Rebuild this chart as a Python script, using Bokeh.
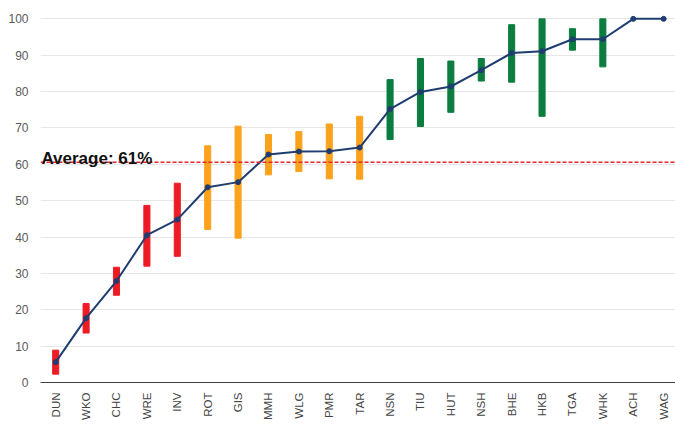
import math
from bokeh.plotting import figure
from bokeh.models import Range1d, FixedTicker, Label, Span, ColumnDataSource
from bokeh.embed import file_html
from bokeh.resources import INLINE

categories = ["DUN", "WKO", "CHC", "WRE", "INV", "ROT", "GIS", "MMH", "WLG", "PMR",
              "TAR", "NSN", "TIU", "HUT", "NSH", "BHE", "HKB", "TGA", "WHK", "ACH", "WAG"]
values = [5.6, 17.7, 27.9, 40.5, 44.8, 53.7, 55.1, 62.7, 63.5, 63.6,
          64.6, 75.2, 79.9, 81.4, 85.9, 90.6, 91.1, 94.4, 94.4, 100.0, 100.0]
lows = [2.3, 13.6, 24.0, 32.0, 34.7, 42.1, 39.7, 57.1, 58.0, 56.0,
        55.9, 66.8, 70.4, 74.3, 82.9, 82.6, 73.2, 91.4, 86.8, None, None]
highs = [8.9, 21.7, 31.7, 48.7, 54.8, 65.1, 70.5, 68.2, 69.0, 71.1,
         73.2, 83.3, 89.1, 88.4, 89.1, 98.4, 100.0, 97.3, 100.0, None, None]
groups = ["low"] * 5 + ["mid"] * 6 + ["high"] * 10
average = 60.6
y_ticks = [0, 10, 20, 30, 40, 50, 60, 70, 80, 90, 100]

group_colors = {"low": "#ed1c24", "mid": "#faa21b", "high": "#0b7d3e"}

n = len(categories)
xs = list(range(n))

p = figure(width=675, height=428, output_backend="svg", toolbar_location=None,
           x_range=Range1d(-0.5, 20.39), y_range=Range1d(0, 102.3),
           min_border_left=40, min_border_right=0, min_border_top=10, min_border_bottom=46)
p.outline_line_color = None
p.background_fill_color = "white"
p.border_fill_color = "white"

bx, bl, bh, bc = [], [], [], []
for i in xs:
    if lows[i] is not None:
        bx.append(i); bl.append(lows[i]); bh.append(highs[i]); bc.append(group_colors[groups[i]])
p.vbar(x="x", bottom="b", top="t", width=0.2, color="c",
       source=ColumnDataSource(dict(x=bx, b=bl, t=bh, c=bc)))

p.line(xs, values, line_color="#1f3d70", line_width=2)
p.scatter(xs, values, size=5, fill_color="#1f3d70", line_color="#1f3d70")

p.add_layout(Span(location=average, dimension="width", line_color="#e8262b",
                  line_width=1.5, line_dash="4 2"))
p.add_layout(Label(x=-0.47, y=average + 0.96, text="Average: %d%%" % round(average),
                   text_font="Liberation Sans", text_font_style="bold",
                   text_font_size="17px", text_color="#111111", text_baseline="alphabetic"))

p.xgrid.grid_line_color = None
p.ygrid.grid_line_color = "#e6e6e6"
p.ygrid.ticker = FixedTicker(ticks=y_ticks)

p.yaxis.ticker = FixedTicker(ticks=y_ticks)
p.yaxis.axis_line_color = None
p.yaxis.major_tick_line_color = None
p.yaxis.major_tick_out = 0
p.yaxis.minor_tick_line_color = None
p.yaxis.major_label_standoff = 12
p.yaxis.major_label_text_font = "Liberation Sans"
p.yaxis.major_label_text_font_size = "12px"
p.yaxis.major_label_text_color = "#595959"

p.xaxis.ticker = FixedTicker(ticks=xs)
p.xaxis.major_label_overrides = {i: c for i, c in enumerate(categories)}
p.xaxis.major_label_orientation = math.pi / 2
p.xaxis.axis_line_color = "#404040"
p.xaxis.axis_line_width = 1
p.xaxis.major_tick_line_color = None
p.xaxis.major_tick_out = 0
p.xaxis.major_tick_in = 0
p.xaxis.minor_tick_line_color = None
p.xaxis.major_label_standoff = 10
p.xaxis.major_label_text_font = "Liberation Sans"
p.xaxis.major_label_text_font_size = "11.5px"
p.xaxis.major_label_text_color = "#444444"

open("out.html", "w").write(file_html(p, INLINE))
